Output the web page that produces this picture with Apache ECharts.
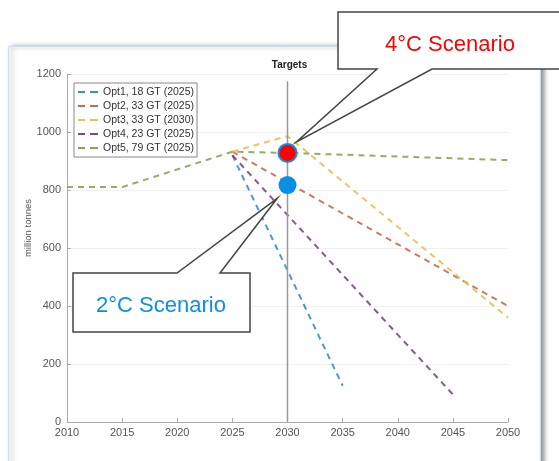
<!DOCTYPE html>
<html><head><meta charset="utf-8">
<script src="https://cdn.jsdelivr.net/npm/echarts@6/dist/echarts.min.js"></script>
<style>html,body{margin:0;padding:0;background:#fff}#c{width:559px;height:461px}</style>
</head><body><div id="c"></div>
<script>
// ---- data ----
const seriesNames = ["Opt1, 18 GT (2025)","Opt2, 33 GT (2025)","Opt3, 33 GT (2030)","Opt4, 23 GT (2025)","Opt5, 79 GT (2025)"];
const opt1Years = [2025, 2035];            const opt1Values = [920, 125];
const opt2Years = [2025, 2050];            const opt2Values = [932, 400];
const opt3Years = [2025, 2030, 2050];      const opt3Values = [932, 986, 360];
const opt4Years = [2025, 2045];            const opt4Values = [920, 95];
const opt5Years = [2010, 2015, 2025, 2030, 2050]; const opt5Values = [810, 810, 932, 928, 903];
const targetYear = 2030; const targetTop = 1175;
const scenario4Value = 928;   // red marker
const scenario2Value = 817;   // blue marker
const xTicks = [2010, 2050, 5];
const yTicks = [0, 1200, 200];

const colors = ['#3f8cc6','#c96a4c','#e8bf55','#7d4684','#86a457'];
const pairs = (xs, ys) => xs.map((x, i) => [x, ys[i]]);
const allYears = [opt1Years, opt2Years, opt3Years, opt4Years, opt5Years];
const allValues = [opt1Values, opt2Values, opt3Values, opt4Values, opt5Values];
const dashIcon = 'path://M0,0H7V2H0Z M12,0H20V2H12Z';

const lineSeries = seriesNames.map((n, i) => ({
  name: n, type: 'line', data: pairs(allYears[i], allValues[i]),
  symbol: 'none', z: 3,
  lineStyle: { color: colors[i], width: 2, type: [6, 5], opacity: 0.9 },
  itemStyle: { color: colors[i] }
}));

const chart = echarts.init(document.getElementById('c'), null, { renderer: 'canvas' });
const option = {
  animation: false,
  backgroundColor: '#fff',
  grid: { left: 67, right: 51, top: 74, bottom: 39 },
  xAxis: {
    type: 'value', min: xTicks[0], max: xTicks[1], interval: xTicks[2],
    axisLine: { lineStyle: { color: '#aaa' } },
    axisTick: { inside: true, length: 4, lineStyle: { color: '#aaa' } },
    axisLabel: { color: '#555', fontSize: 11, margin: 5, fontFamily: 'Liberation Sans', formatter: v => String(v) },
    splitLine: { show: false }
  },
  yAxis: {
    type: 'value', min: yTicks[0], max: yTicks[1], interval: yTicks[2],
    axisLine: { show: true, lineStyle: { color: '#aaa' } },
    axisTick: { show: true, inside: true, length: 4, lineStyle: { color: '#aaa' } },
    axisLabel: { color: '#555', fontSize: 11, margin: 6, fontFamily: 'Liberation Sans', formatter: v => String(v) },
    splitLine: { lineStyle: { color: '#f0f0f0' } }
  },
  legend: {
    orient: 'vertical', left: 74, top: 83,
    data: seriesNames.map((n, i) => ({ name: n, icon: dashIcon, itemStyle: { color: colors[i] } })),
    itemWidth: 20, itemHeight: 2, itemGap: 2,
    padding: [3, 3, 3, 4],
    borderColor: '#888', borderWidth: 1, backgroundColor: '#fff',
    textStyle: { color: '#333', fontSize: 10.5, fontFamily: 'Liberation Sans', lineHeight: 12 }
  },
  series: [
    ...lineSeries,
    { name: 'target', type: 'line', data: [[targetYear, 0], [targetYear, targetTop]], symbol: 'none',
      lineStyle: { color: '#999', width: 1.5 }, z: 4, silent: true },
    { name: 'm2', type: 'scatter', data: [[targetYear, scenario2Value]], symbolSize: 18,
      itemStyle: { color: '#0a8fe6', opacity: 1 }, z: 6 },
    { name: 'm4', type: 'scatter', data: [[targetYear, scenario4Value]], symbolSize: 18,
      itemStyle: { color: '#ff0000', borderColor: '#0a8fe6', borderWidth: 2, opacity: 1 }, z: 6 }
  ]
};
chart.setOption(option);

const p4 = chart.convertToPixel({ gridIndex: 0 }, [targetYear, scenario4Value]);
const p2 = chart.convertToPixel({ gridIndex: 0 }, [targetYear, scenario2Value]);
const pTop = chart.convertToPixel({ gridIndex: 0 }, [targetYear, targetTop]);
const tip4 = [p4[0] + 9, p4[1] - 11];
const tip2 = [p2[0] - 10, p2[1] + 13];

chart.setOption({
  graphic: [
    { type: 'rect', z: -10, shape: { x: 8.5, y: 46.5, width: 532, height: 430 },
      style: { fill: '#fff', stroke: '#cfdceb', lineWidth: 1, shadowBlur: 5, shadowOffsetX: 3, shadowOffsetY: 0, shadowColor: 'rgba(0,0,0,0.45)' } },
    { type: 'text', z: 10, x: 28, y: 228, rotation: Math.PI / 2,
      style: { text: 'million tonnes', fill: '#555', font: '9.5px "Liberation Sans"', align: 'center', verticalAlign: 'middle' } },
    { type: 'text', z: 10, x: pTop[0] + 2, y: 60, style: { text: 'Targets', fill: '#222', font: 'bold 10px "Liberation Sans"', align: 'center' } },
    { type: 'polygon', z: 100, shape: { points: [[338,12],[600,12],[600,69],[432,69],tip4,[377,69],[338,69]] },
      style: { fill: '#fff', stroke: '#444', lineWidth: 1.5 } },
    { type: 'text', z: 101, x: 450, y: 34, style: { text: '4°C Scenario', fill: '#ff0000', font: '22px "Liberation Sans"', align: 'center' } },
    { type: 'polygon', z: 100, shape: { points: [[73,273],[177,273],tip2,[220,273],[250,273],[250,332],[73,332]] },
      style: { fill: '#fff', stroke: '#444', lineWidth: 1.5 } },
    { type: 'text', z: 101, x: 161, y: 295, style: { text: '2°C Scenario', fill: '#0a8fe6', font: '22px "Liberation Sans"', align: 'center' } }
  ]
});
</script></body></html>
